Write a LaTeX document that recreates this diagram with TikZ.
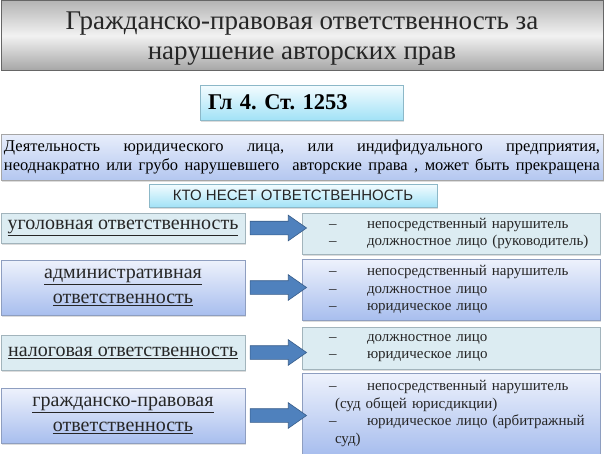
\documentclass[tikz,border=0pt]{standalone}
\usepackage{fontspec}
\setmainfont{Liberation Serif}
\newfontfamily\timesf{Liberation Serif}
\newfontfamily\arialf{Liberation Sans}
\usetikzlibrary{shapes.arrows,shadows,calc}
\definecolor{titletop}{HTML}{B4B4B4}
\definecolor{titlemid}{HTML}{F2F2F2}
\definecolor{titlebot}{HTML}{A6A6A6}
\definecolor{cyantop}{HTML}{F4FCFF}
\definecolor{cyanbot}{HTML}{A2E2F6}
\definecolor{cyanline}{HTML}{8CB8C8}
\definecolor{desctop}{HTML}{E8EEFB}
\definecolor{descbot}{HTML}{B4C7F0}
\definecolor{flatfill}{HTML}{DCECF2}
\definecolor{flatline}{HTML}{A2B4BC}
\definecolor{gradtop}{HTML}{EEF2FC}
\definecolor{gradbot}{HTML}{A8BEEE}
\definecolor{gradline}{HTML}{8E9EC0}
\definecolor{arrowfill}{HTML}{4F81BD}
\definecolor{arrowline}{HTML}{385D8A}
\frenchspacing
\begin{document}
\frenchspacing
\begin{tikzpicture}[x=1pt,y=-1pt,
  shade/.style={drop shadow={shadow xshift=1.2pt,shadow yshift=-1.5pt,fill=black!30,opacity=.45}},
  titlebox/.style={draw=black!60,line width=0.8pt,top color=titletop,bottom color=titlebot,middle color=titlemid,inner sep=0pt},
  titletext/.style={inner sep=0pt,align=center,font=\timesf\fontsize{27}{30}\selectfont,text=black!85},
  cyanbox/.style={draw=cyanline,line width=0.6pt,top color=cyantop,bottom color=cyanbot,inner sep=0pt,shade},
  descbox/.style={draw=black!35,line width=0.6pt,top color=desctop,bottom color=descbot,inner sep=0pt,shade},
  flatbox/.style={draw=flatline,line width=0.6pt,fill=flatfill,inner sep=0pt,shade},
  gradbox/.style={draw=gradline,line width=0.6pt,top color=gradtop,bottom color=gradbot,inner sep=0pt,shade},
  lefttext/.style={align=center,font=\timesf\fontsize{20}{25}\selectfont,text=black!85,minimum width=244pt},
  righttext/.style={align=left,font=\timesf\fontsize{15}{17.5}\selectfont,text=black!85,minimum width=298pt,
    text width=298pt,inner xsep=0pt},
  bigarrow/.style={single arrow,draw=arrowline,fill=arrowfill,line width=0.6pt,inner xsep=0pt,inner ysep=6.5pt,
    single arrow head extend=6pt,single arrow tip angle=70,shape border rotate=0},
]
\useasboundingbox (0,0) rectangle (604,453);

% title
\node[titlebox,minimum width=602pt,minimum height=70pt] (title) at (302,35.5) {};
\node[titletext] (titlelabel) at ($(title.center)+(0,3.5)$)
  {Гражданско-правовая ответственность за\\нарушение авторских прав};

% article
\node[cyanbox,minimum width=203pt,minimum height=35pt,text width=187pt,inner xsep=8pt,align=left,
  font=\timesf\bfseries\fontsize{22.5}{26}\selectfont] (art) at (301.5,102.5) {Гл 4. Ст. 1253};

% description
\node[descbox,minimum width=602pt,minimum height=46pt,font=\timesf\fontsize{16.5}{19.5}\selectfont] (desc) at (302,157)
  {\parbox{596pt}{\parfillskip=0pt Деятельность юридического лица, или индифидуального предприятия, неоднакратно или грубо нарушевшего\ \ авторские права , может быть прекращена}};

% who
\node[cyanbox,minimum width=288pt,minimum height=23pt,font=\arialf\fontsize{15}{18}\selectfont,text=black!85] (who) at (293,195.5)
  {КТО НЕСЕТ ОТВЕТСТВЕННОСТЬ};

% left boxes
\node[flatbox,lefttext,minimum height=30pt] (l1) at (123,228) {\underline{уголовная ответственность}};
\node[gradbox,lefttext,minimum height=55pt] (l2) at (123,287.5) {\underline{административная}\\\underline{ответственность}};
\node[flatbox,lefttext,minimum height=35pt] (l3) at (123,352.5) {\underline{налоговая ответственность}};
\node[gradbox,lefttext,minimum height=55pt] (l4) at (123,415.5) {\underline{гражданско-правовая}\\\underline{ответственность}};

% right boxes
\newcommand{\dashitem}{\hspace*{27pt}\makebox[38pt][l]{–}}
\newcommand{\contline}{\hspace*{33pt}}
\node[flatbox,righttext,minimum height=41pt] (r1) at (451,233.5)
  {\dashitem непосредственный нарушитель\\\dashitem должностное лицо (руководитель)};
\node[gradbox,righttext,minimum height=61pt] (r2) at (451,289.5)
  {\dashitem непосредственный нарушитель\\\dashitem должностное лицо\\\dashitem юридическое лицо};
\node[flatbox,righttext,minimum height=42pt] (r3) at (451,348)
  {\dashitem должностное лицо\\\dashitem юридическое лицо};
\node[gradbox,righttext,minimum height=81pt] (r4) at (451,413.5)
  {\dashitem непосредственный нарушитель\\\contline(суд общей юрисдикции)\\\dashitem юридическое лицо (арбитражный\\\contline суд)};

% arrows
\foreach \i in {1,2,3,4}{
  \path let \p1=(l\i.east), \p2=(r\i.west) in
    node[bigarrow,minimum height={\x2-\x1}] (a\i) at ({(\x1+\x2)/2},\y1) {};
}
\end{tikzpicture}
\end{document}
